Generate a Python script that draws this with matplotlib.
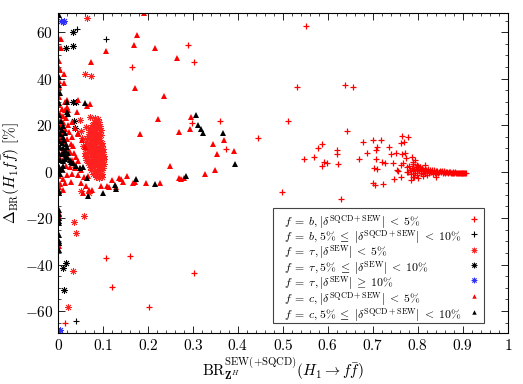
import numpy as np
import matplotlib
matplotlib.use('Agg')
import matplotlib.pyplot as plt
from matplotlib.ticker import MultipleLocator, FuncFormatter
from matplotlib.patches import Rectangle

plt.rcParams['mathtext.fontset'] = 'cm'
plt.rcParams['font.family'] = 'serif'
plt.rcParams['font.serif'] = ['cmr10']
plt.rcParams['axes.unicode_minus'] = False

# f = b, |delta| < 5%  (red +)
b_lt5_x = [0.552, 0.532, 0.638, 0.655, 0.511, 0.360, 0.298, 0.445, 0.642, 0.373, 0.498, 0.630,
           0.547, 0.570, 0.578, 0.587, 0.592, 0.598, 0.587, 0.621, 0.621, 0.622, 0.668, 0.678,
           0.687, 0.700, 0.718, 0.709, 0.708, 0.706, 0.703, 0.710, 0.721, 0.727, 0.735, 0.741,
           0.745, 0.751, 0.756, 0.748, 0.723, 0.700, 0.704, 0.762, 0.770, 0.765, 0.778, 0.764,
           0.772, 0.773, 0.767, 0.762, 0.763, 0.753, 0.793, 0.801, 0.792,
           0.106, 0.160, 0.121, 0.202, 0.303, 0.016, 0.290, 0.303, 0.165,
           0.776, 0.779, 0.781, 0.783, 0.785, 0.787, 0.789, 0.790, 0.792, 0.794, 0.796, 0.797,
           0.799, 0.801, 0.803, 0.805, 0.806, 0.808, 0.810, 0.811, 0.813, 0.815, 0.816, 0.818,
           0.820, 0.821, 0.823, 0.825, 0.826, 0.828, 0.830, 0.831, 0.833, 0.835, 0.836, 0.838,
           0.840, 0.842, 0.843, 0.845, 0.847, 0.849, 0.851, 0.853, 0.855, 0.857, 0.859, 0.861,
           0.863, 0.865, 0.867, 0.869, 0.871, 0.873, 0.875, 0.877, 0.879, 0.881, 0.883, 0.885,
           0.887, 0.889, 0.891, 0.893, 0.895, 0.897, 0.899, 0.901, 0.903, 0.905, 0.907,
           0.784, 0.800, 0.812, 0.790, 0.786, 0.815, 0.797, 0.804, 0.775, 0.790, 0.841]
b_lt5_y = [62.7, 36.6, 37.2, 36.3, 21.7, 21.7, 20.8, 14.6, 17.5, 9.6, -8.9, -11.9,
           5.6, 6.3, 10.2, 11.8, 4.3, 3.9, 2.5, 9.5, 7.6, 3.2, 5.6, 12.6,
           8.0, 13.6, 13.5, 10.8, 9.2, 5.3, 1.7, 1.0, 4.0, 3.6, 10.5, 7.7,
           3.9, 7.9, 0.4, -3.0, -5.3, -4.7, -5.8, 12.2, 12.6, 15.4, 14.7, 7.6,
           8.2, 5.8, 3.9, 2.9, -2.2, 0.7, 5.0, 2.6, -2.2,
           -37.3, -36.5, -49.5, -58.3, -43.4, -65.2, 54.4, 47.3, 44.9,
           1.8, -0.3, 2.6, 0.9, -1.2, 1.5, 3.1, 0.2, 1.1, -0.6, 2.0, 0.5,
           -1.6, 1.3, 0.1, 2.2, -0.4, 0.9, 1.6, -0.9, 0.4, 1.2, -0.2, 0.7,
           -1.3, 0.3, 1.0, -0.5, 0.2, 0.8, -0.3, 0.5, -0.9, 0.1, 0.6, -0.4,
           0.2, -0.1, 0.4, -0.6, 0.0, 0.3, -0.3, 0.1, -0.5, -0.1, 0.2, -0.4,
           -0.2, 0.0, -0.5, -0.3, -0.1, -0.6, -0.4, -0.2, -0.7, -0.5, -0.3, -0.7,
           -0.6, -0.4, -0.8, -0.6, -0.5, -0.8, -0.7, -0.6, -0.8, -0.7, -0.8,
           -3.5, -2.9, -2.0, 4.2, 6.5, 3.0, 2.9, 2.2, 0.0, -2.4, -2.4]

# f = b, 5% <= |delta| < 10%  (black +)
b_5_10_x = [0.043, 0.106, 0.039]
b_5_10_y = [61.5, 57.1, -64.2]

# f = tau, |delta| < 5%  (red asterisk): scattered points, then the dense tongue near x~0.08
tau_lt5_x = [0.064, 0.060, 0.073, 0.071, 0.049, 0.051, 0.069, 0.036, 0.058, 0.041, 0.034, 0.023,
             0.082, 0.088,
             0.079, 0.085, 0.091,
             0.076, 0.082, 0.088, 0.093,
             0.072, 0.078, 0.084, 0.090, 0.095,
             0.069, 0.075, 0.081, 0.087, 0.093,
             0.066, 0.072, 0.078, 0.084, 0.090, 0.095,
             0.064, 0.070, 0.076, 0.082, 0.088, 0.094,
             0.062, 0.068, 0.074, 0.080, 0.086, 0.092, 0.097,
             0.061, 0.067, 0.073, 0.079, 0.085, 0.091, 0.097,
             0.060, 0.066, 0.072, 0.078, 0.084, 0.090, 0.096, 0.100,
             0.059, 0.065, 0.071, 0.077, 0.083, 0.089, 0.095, 0.101,
             0.061, 0.067, 0.073, 0.079, 0.085, 0.091, 0.097, 0.102,
             0.063, 0.069, 0.075, 0.081, 0.087, 0.093, 0.099, 0.103,
             0.066, 0.072, 0.078, 0.084, 0.090, 0.096, 0.102,
             0.070, 0.076, 0.082, 0.088, 0.094, 0.100,
             0.074, 0.080, 0.086, 0.092, 0.098,
             0.078, 0.085, 0.092, 0.098,
             0.084, 0.091, 0.097,
             0.053, 0.056, 0.050, 0.062]
tau_lt5_y = [66.0, 42.0, 41.2, 23.7, 22.2, -8.4, -9.3, -21.5, -19.1, -26.5, -42.6, -58.3,
             23.1, 22.7,
             21.4, 21.9, 21.2,
             20.1, 19.7, 20.3, 19.6,
             18.6, 18.2, 18.9, 18.4, 18.0,
             17.2, 16.8, 17.3, 16.6, 17.0,
             15.4, 15.8, 15.2, 15.7, 15.3, 15.9,
             14.1, 13.8, 14.3, 13.9, 14.2, 13.7,
             12.6, 12.3, 12.8, 12.4, 12.7, 12.2, 12.5,
             11.1, 10.8, 11.3, 10.9, 11.2, 10.7, 11.0,
             9.6, 9.3, 9.8, 9.4, 9.7, 9.2, 9.5, 9.9,
             8.1, 7.8, 8.3, 7.9, 8.2, 7.7, 8.0, 8.4,
             6.6, 6.3, 6.8, 6.4, 6.7, 6.2, 6.5, 6.9,
             5.1, 4.8, 5.3, 4.9, 5.2, 4.7, 5.0, 5.4,
             3.6, 3.3, 3.8, 3.4, 3.7, 3.2, 3.5,
             2.1, 1.8, 2.3, 1.9, 2.2, 1.7,
             0.6, 0.3, 0.8, 0.4, 0.7,
             -0.9, -1.2, -0.8, -1.1,
             -2.4, -2.7, -2.3,
             14.5, 11.0, 17.5, 19.0]

# f = tau, 5% <= |delta| < 10%  (black asterisk)
tau_5_10_x = [0.033, 0.018, 0.033, 0.033, 0.040, 0.036, 0.038, 0.017, 0.012, 0.013]
tau_5_10_y = [60.0, 53.1, 54.1, 29.8, 29.8, 21.8, 18.7, -39.1, -41.3, -50.9]

# f = tau, |delta| >= 10%  (blue asterisk)
tau_ge10_x = [0.006, 0.010, 0.014, 0.002, 0.004]
tau_ge10_y = [64.8, 64.6, 64.8, -68.4, -68.0]

# f = c, |delta| < 5%  (red triangle)
c_lt5_x = [0.191, 0.176, 0.169, 0.216, 0.107, 0.073, 0.264, 0.172, 0.236, 0.223, 0.182, 0.270,
           0.294, 0.295, 0.248, 0.327, 0.269, 0.273, 0.279, 0.227, 0.195, 0.167, 0.170, 0.154,
           0.136, 0.140, 0.144, 0.119, 0.108, 0.114, 0.129, 0.095, 0.345, 0.370, 0.354, 0.391,
           0.349, 0.075, 0.067, 0.049, 0.037, 0.045, 0.019, 0.065, 0.071, 0.045,
           0.002, 0.006, 0.002, 0.006, 0.002, 0.003, 0.004, 0.014, 0.014, 0.002, 0.003, 0.002,
           0.019, 0.002, 0.002, 0.002, 0.002, 0.002, 0.002,
           0.003, 0.008, 0.004, 0.010, 0.015, 0.003, 0.007, 0.012, 0.018, 0.022, 0.003, 0.009,
           0.016, 0.025, 0.030, 0.004, 0.013, 0.021, 0.028, 0.034, 0.003, 0.010, 0.019, 0.026,
           0.035, 0.040, 0.004, 0.012, 0.022, 0.031, 0.045, 0.003, 0.009, 0.018, 0.027, 0.038,
           0.052, 0.003, 0.010, 0.020, 0.032, 0.045, 0.058, 0.004, 0.015, 0.028, 0.050, 0.062,
           0.003, 0.012, 0.055, 0.068,
           0.016, 0.023, 0.042, 0.030, 0.038, 0.045, 0.053, 0.060]
c_lt5_y = [68.1, 58.8, 54.5, 53.3, 51.9, 47.2, 48.8, 36.1, 32.5, 22.5, 16.1, 16.9,
           18.4, 23.3, 2.3, -1.1, -2.8, -3.1, -2.6, -4.7, -4.7, -5.0, -4.3, -2.0,
           -2.8, -3.3, -4.3, -3.6, -6.2, -6.4, -6.4, -6.2, 11.9, 13.6, 7.6, 8.9,
           0.7, -7.9, -2.0, 1.5, 2.9, 30.8, 30.8, 28.4, 29.0, 16.2,
           57.2, 57.0, 53.1, 53.3, 47.7, 44.5, 43.7, 42.0, 38.0, 39.1, 36.6, 32.0,
           28.0, -6.4, -17.6, -19.2, -20.0, -30.8, -32.2,
           28.5, 27.0, 25.0, 24.0, 26.5, 22.0, 20.5, 21.5, 23.0, 20.0, 18.0, 17.0,
           18.5, 17.0, 15.0, 14.0, 13.0, 14.0, 12.0, 11.0, 10.0, 9.0, 10.0, 8.5,
           8.0, 6.5, 6.0, 5.0, 6.0, 5.0, 4.5, 2.0, 1.0, 2.5, 2.0, 1.5,
           0.5, -2.0, -3.0, -1.5, -1.0, -1.5, -2.5, -5.5, -5.0, -4.5, -5.0, -6.0,
           -9.0, -8.0, -9.0, -8.0,
           30.1, 26.5, 25.8, 21.5, 18.7, 16.5, 13.6, 10.8]

# f = c, 5% <= |delta| < 10%  (black triangle)
c_5_10_x = [0.002, 0.002, 0.002, 0.004, 0.019, 0.002, 0.019, 0.023, 0.060,
            0.306, 0.311, 0.318, 0.323, 0.367, 0.394, 0.285, 0.216, 0.173, 0.127, 0.129,
            0.100, 0.067, 0.065,
            0.019, 0.027, 0.034, 0.029, 0.040, 0.049, 0.056,
            0.002, 0.002, 0.002, 0.002, 0.002, 0.002, 0.002, 0.002, 0.002, 0.002, 0.002,
            0.003, 0.008, 0.012, 0.005, 0.010, 0.015, 0.003, 0.008, 0.013, 0.018, 0.005,
            0.010, 0.015, 0.020, 0.003, 0.008, 0.013, 0.018, 0.023, 0.005, 0.010, 0.015,
            0.003, 0.008, 0.004, 0.002, 0.012, 0.006, 0.003]
c_5_10_y = [67.4, 40.9, 37.3, 33.7, 30.1, 29.4, 25.8, 24.8, 29.4,
            24.4, 20.1, 18.2, 16.5, 16.5, 3.2, -2.0, -5.3, -3.3, -5.7, -7.4,
            -9.0, -10.3, -2.6,
            6.5, 5.0, 3.6, 4.3, 2.5, 1.5, 1.9,
            -8.5, -9.3, -16.5, -18.2, -20.0, -21.4, -22.2, -27.2, -30.0, -30.8, -33.7,
            19.0, 18.0, 19.5, 16.0, 15.0, 16.5, 13.0, 12.5, 13.5, 12.0, 10.5,
            10.0, 9.5, 10.5, 8.0, 7.5, 8.0, 7.0, 8.0, 5.0, 4.5, 5.5,
            2.0, 1.0, -1.0, 0.5, 2.5, 22.0, 24.5]

labels = [r'$f\;=\;b,|\delta^{\rm SQCD+SEW}|\;<\;5\%$',
          r'$f\;=\;b,5\%\;\leq\;|\delta^{\rm SQCD+SEW}|\;<\;10\%$',
          r'$f\;=\;\tau,|\delta^{\rm SEW}|\;<\;5\%$',
          r'$f\;=\;\tau,5\%\;\leq\;|\delta^{\rm SEW}|\;<\;10\%$',
          r'$f\;=\;\tau,|\delta^{\rm SEW}|\;\geq\;10\%$',
          r'$f\;=\;c,|\delta^{\rm SQCD+SEW}|\;<\;5\%$',
          r'$f\;=\;c,5\%\;\leq\;|\delta^{\rm SQCD+SEW}|\;<\;10\%$']

STAR = (8, 2, 0)
styles = [dict(marker='+', color='red', ms=5, mew=0.9),
          dict(marker='+', color='black', ms=5, mew=0.8),
          dict(marker=STAR, color='#ff2020', ms=5, mew=0.6),
          dict(marker=STAR, color='black', ms=5, mew=0.6),
          dict(marker=STAR, color='#3030ff', ms=5, mew=0.6),
          dict(marker='^', color='red', ms=4, mew=0),
          dict(marker='^', color='black', ms=4, mew=0)]
series = [(b_lt5_x, b_lt5_y), (b_5_10_x, b_5_10_y),
          (tau_lt5_x, tau_lt5_y), (tau_5_10_x, tau_5_10_y), (tau_ge10_x, tau_ge10_y),
          (c_lt5_x, c_lt5_y), (c_5_10_x, c_5_10_y)]

fig = plt.figure(figsize=(5.23, 3.84), dpi=100)
ax = fig.add_axes([0.111, 0.133, 0.860, 0.834])

for (xs, ys), st in zip(series, styles):
    ax.plot(xs, ys, ls='none', **st)

ax.set_xlim(0, 1)
ax.set_ylim(-69.4, 68.4)
ax.xaxis.set_major_locator(MultipleLocator(0.1))
ax.xaxis.set_minor_locator(MultipleLocator(0.02))
ax.yaxis.set_major_locator(MultipleLocator(20))
ax.yaxis.set_minor_locator(MultipleLocator(5))
fmt = FuncFormatter(lambda v, p: r'$%g$' % round(v, 3))
ax.xaxis.set_major_formatter(fmt)
ax.yaxis.set_major_formatter(fmt)
ax.tick_params(which='both', direction='in', top=True, right=True, labelsize=11)
ax.tick_params(which='major', length=5, width=0.6)
ax.tick_params(which='minor', length=2.5, width=0.5)
for s in ax.spines.values():
    s.set_linewidth(0.8)

ax.set_xlabel(r'$\mathrm{BR}^{\rm SEW(+SQCD)}_{\mathbf{Z}^H}(H_1\to f\bar{f})$', fontsize=11, labelpad=2)
ax.set_ylabel(r'$\Delta_{\rm BR}(H_1 f\bar{f})$ [$\%$]', fontsize=11)
ax.yaxis.set_label_coords(-0.080, 0.5)

# legend box drawn by hand: text left-aligned, markers in a column on the right
box = Rectangle((0.478, 0.032), 0.469, 0.357, transform=ax.transAxes,
                facecolor='white', edgecolor='#444444', lw=0.8, zorder=5)
ax.add_patch(box)
row_y = [0.356, 0.309, 0.260, 0.211, 0.164, 0.114, 0.065]
for lab, st, yy in zip(labels, styles, row_y):
    ax.text(0.502, yy, lab, transform=ax.transAxes, ha='left', va='center_baseline',
            fontsize=8.5, zorder=6)
    leg_st = dict(st)
    leg_st['ms'] = st['ms'] * 0.8
    ax.plot([0.924], [yy], transform=ax.transAxes, ls='none', zorder=6, clip_on=False, **leg_st)

fig.savefig('out.png', dpi=100)
